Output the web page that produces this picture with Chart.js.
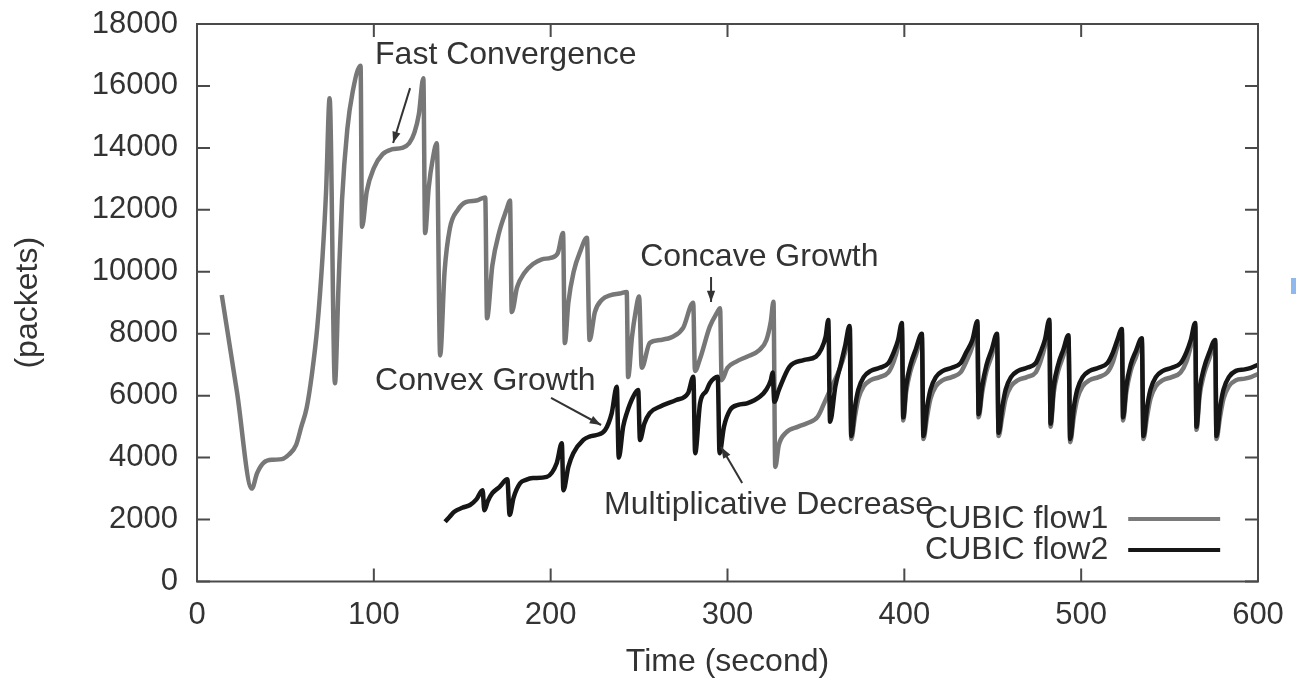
<!DOCTYPE html>
<html>
<head>
<meta charset="utf-8">
<script src="https://cdn.jsdelivr.net/npm/chart.js@4"></script>
<style>
  body { margin: 0; background: #fff; }
  #wrap { position: relative; width: 1297px; height: 684px; }
  #mark { position: absolute; left: 1291px; top: 278px; width: 5px; height: 16px; background: #8fb8ee; }
</style>
</head>
<body>
<div id="wrap">
  <canvas id="myChart" width="1297" height="684"></canvas>
  <div id="mark"></div>
</div>
<script>
// eixos
const xTicks = [0, 100, 200, 300, 400, 500, 600];
const yTicks = [0, 2000, 4000, 6000, 8000, 10000, 12000, 14000, 16000, 18000];

// CUBIC flow1 (cinza)
const flow1Time = [14, 22.6, 31, 34, 38, 43, 48, 52, 56, 59, 62, 65, 68, 71, 73, 75, 78, 80, 82, 85, 88, 92.5, 93.3, 96, 100, 105, 110, 116, 120, 123, 125.5, 128, 129, 131, 133.5, 135.6, 137.5, 140, 143, 147.5, 152, 158, 163, 164, 167, 171, 175, 177, 178, 181, 185, 190, 195, 200, 204, 207, 208, 210, 213, 217, 220.5, 222, 225, 229, 234, 239, 243, 243.8, 246, 248, 250, 251.5, 256, 262, 269, 275, 280.6, 281.6, 284.5, 290, 294, 295.8, 296.7, 300, 305, 311, 318, 322, 324.5, 326, 327, 329, 333, 340, 345, 351, 355, 359, 363, 366.5, 369.3, 370, 372, 374, 377, 381, 386, 391, 394, 396.5, 398.6, 399.4, 401, 403.5, 406.5, 409.9, 410.8, 412.8, 414.8, 417.8, 421.8, 426.8, 431.8, 435, 438.5, 441.3, 442, 444, 446.5, 449.5, 452.4, 453.3, 455.3, 457.3, 460.3, 464.3, 469.3, 474.3, 477, 479.5, 482, 482.7, 484.5, 487, 490, 492.8, 493.8, 495.8, 497.8, 500.8, 504.8, 509.8, 514.8, 518, 520.5, 523, 523.7, 525.5, 528, 531, 534.3, 535.2, 537.2, 539.2, 542.2, 546.2, 551.2, 556.2, 559.5, 562, 564.5, 565.2, 567, 569.5, 572.5, 575.8, 576.5, 578.5, 580.5, 583.5, 587.5, 592.5, 596, 600];
const flow1Packets = [9250, 6120, 3000, 3500, 3850, 3930, 3950, 4100, 4400, 5000, 5600, 6700, 8200, 10500, 12600, 15600, 6400, 9500, 12300, 14600, 15800, 16650, 11450, 12600, 13350, 13800, 13950, 14000, 14150, 14500, 15100, 16250, 11250, 12700, 13700, 14150, 7300, 10000, 11400, 12000, 12250, 12300, 12400, 8500, 10200, 11300, 12000, 12300, 8700, 9500, 9950, 10250, 10400, 10450, 10600, 11250, 7700, 9000, 10000, 10700, 11100, 7800, 8700, 9100, 9250, 9300, 9350, 6600, 7900, 8700, 9200, 6900, 7700, 7800, 7900, 8200, 9000, 6800, 7200, 8230, 8670, 8820, 6500, 6900, 7100, 7260, 7470, 7800, 8400, 9030, 3700, 4400, 4800, 5000, 5110, 5320, 5800, 6300, 6800, 7400, 8180, 4600, 5300, 5900, 6300, 6500, 6600, 6750, 7100, 7600, 8200, 5200, 6100, 6800, 7300, 7900, 4600, 5300, 5900, 6300, 6500, 6600, 6750, 7100, 7600, 8300, 5300, 6100, 6800, 7300, 7900, 4700, 5300, 5900, 6300, 6500, 6600, 6750, 7100, 7600, 8350, 5000, 6100, 6800, 7300, 7850, 4500, 5300, 5900, 6300, 6500, 6600, 6750, 7100, 7600, 8050, 5200, 6100, 6800, 7250, 7750, 4600, 5300, 5900, 6300, 6500, 6600, 6750, 7100, 7600, 8250, 4900, 6000, 6700, 7200, 7700, 4600, 5300, 5900, 6300, 6500, 6550, 6600, 6700];

// CUBIC flow2 (preto)
const flow2Time = [140.3, 143, 145.5, 150, 154.4, 158, 161.5, 162.5, 164.5, 167, 171, 175.5, 176.8, 179, 182.7, 186, 190, 197.8, 203.4, 206.3, 207.2, 210, 212.8, 218.5, 222, 226, 230.8, 234.5, 237.4, 238.5, 241, 243, 246.7, 249.5, 250.5, 253, 256, 262, 271, 277.7, 280.7, 281.7, 284.5, 288, 290, 294.5, 295.5, 298, 301.5, 306, 311, 318.4, 322, 324.5, 325.5, 326.5, 329, 335, 343, 350, 353, 355.5, 357, 358, 361, 364, 366.5, 369, 370, 372, 374, 377, 381, 386, 391, 394, 396.5, 398.6, 399.4, 401, 403.5, 406.5, 409.9, 410.8, 412.8, 414.8, 417.8, 421.8, 426.8, 431.8, 435, 438.5, 441.3, 442, 444, 446.5, 449.5, 452.4, 453.3, 455.3, 457.3, 460.3, 464.3, 469.3, 474.3, 477, 479.5, 482, 482.7, 484.5, 487, 490, 492.8, 493.8, 495.8, 497.8, 500.8, 504.8, 509.8, 514.8, 518, 520.5, 523, 523.7, 525.5, 528, 531, 534.3, 535.2, 537.2, 539.2, 542.2, 546.2, 551.2, 556.2, 559.5, 562, 564.5, 565.2, 567, 569.5, 572.5, 575.8, 576.5, 578.5, 580.5, 583.5, 587.5, 592.5, 596, 600];
const flow2Packets = [1930, 2100, 2250, 2380, 2470, 2650, 2950, 2300, 2600, 2850, 3050, 3300, 2150, 2700, 3170, 3280, 3340, 3380, 3820, 4460, 2950, 3700, 4140, 4570, 4680, 4730, 4890, 5430, 6290, 4000, 5000, 5430, 5970, 6180, 4570, 5100, 5440, 5650, 5860, 6080, 6610, 4140, 5760, 6150, 6400, 6610, 4140, 5000, 5540, 5700, 5750, 5970, 6200, 6500, 6750, 5800, 6180, 6930, 7150, 7260, 7500, 7900, 8440, 5160, 6300, 7000, 7600, 8250, 4700, 5600, 6200, 6600, 6800, 6900, 7050, 7400, 7800, 8350, 5300, 6300, 7000, 7500, 8000, 4700, 5600, 6200, 6600, 6800, 6900, 7050, 7400, 7800, 8400, 5400, 6300, 7000, 7500, 8000, 4800, 5600, 6200, 6600, 6800, 6900, 7050, 7400, 7800, 8450, 5100, 6300, 7000, 7500, 7950, 4600, 5600, 6200, 6600, 6800, 6900, 7050, 7400, 7800, 8150, 5300, 6300, 7000, 7450, 7850, 4700, 5600, 6200, 6600, 6800, 6900, 7050, 7400, 7800, 8350, 5000, 6200, 6900, 7400, 7800, 4700, 5600, 6200, 6600, 6800, 6850, 6900, 7000];

// anotacoes: texto, posicao do texto e seta (em unidades do grafico)
const notas = [
  { texto: 'Fast Convergence', t: 100.7, v: 17000, seta: [120.5, 15930, 110.9, 14160] },
  { texto: 'Concave Growth', t: 250.6, v: 10480, seta: [290.7, 9830, 290.7, 9025] },
  { texto: 'Convex Growth', t: 100.7, v: 6475, seta: [200.2, 5925, 228.5, 5053] },
  { texto: 'Multiplicative Decrease', t: 230.2, v: 2470, seta: [308.3, 3180, 296.4, 4343] }
];

const legenda = [
  { texto: 'CUBIC flow1', cor: '#7a7a7a', v: 2018 },
  { texto: 'CUBIC flow2', cor: '#161616', v: 1017 }
];

const familia = '"Liberation Sans", Arial, sans-serif';
const fonte = '32px ' + familia;
const corTexto = '#333';

function pontos(tempos, valores) {
  return tempos.map((t, i) => ({ x: t, y: valores[i] }));
}

// moldura com ticks para dentro (estilo gnuplot)
const moldura = {
  id: 'moldura',
  afterDraw(chart) {
    const c = chart.ctx;
    const a = chart.chartArea;
    const sx = chart.scales.x;
    const sy = chart.scales.y;
    const tam = 13;
    c.save();
    c.strokeStyle = '#4a4a4a';
    c.lineWidth = 2;
    c.strokeRect(a.left, a.top, a.right - a.left, a.bottom - a.top);
    c.beginPath();
    xTicks.forEach(v => {
      const px = sx.getPixelForValue(v);
      c.moveTo(px, a.bottom); c.lineTo(px, a.bottom - tam);
      c.moveTo(px, a.top); c.lineTo(px, a.top + tam);
    });
    yTicks.forEach(v => {
      const py = sy.getPixelForValue(v);
      c.moveTo(a.left, py); c.lineTo(a.left + tam, py);
      c.moveTo(a.right, py); c.lineTo(a.right - tam, py);
    });
    c.stroke();
    c.restore();
  }
};

const anotacoes = {
  id: 'anotacoes',
  afterDraw(chart) {
    const c = chart.ctx;
    const sx = chart.scales.x;
    const sy = chart.scales.y;
    c.save();
    c.font = fonte;
    c.fillStyle = corTexto;
    c.textBaseline = 'middle';
    notas.forEach(n => {
      c.textAlign = 'left';
      c.fillText(n.texto, sx.getPixelForValue(n.t), sy.getPixelForValue(n.v));
      const x1 = sx.getPixelForValue(n.seta[0]), y1 = sy.getPixelForValue(n.seta[1]);
      const x2 = sx.getPixelForValue(n.seta[2]), y2 = sy.getPixelForValue(n.seta[3]);
      c.strokeStyle = '#333';
      c.lineWidth = 2;
      c.beginPath(); c.moveTo(x1, y1); c.lineTo(x2, y2); c.stroke();
      const ang = Math.atan2(y2 - y1, x2 - x1);
      c.beginPath();
      c.moveTo(x2, y2);
      c.lineTo(x2 - 12 * Math.cos(ang - 0.35), y2 - 12 * Math.sin(ang - 0.35));
      c.lineTo(x2 - 12 * Math.cos(ang + 0.35), y2 - 12 * Math.sin(ang + 0.35));
      c.closePath();
      c.fill();
    });
    // legenda dentro do grafico
    legenda.forEach(l => {
      const py = sy.getPixelForValue(l.v);
      c.textAlign = 'right';
      c.fillStyle = corTexto;
      c.fillText(l.texto, sx.getPixelForValue(515.3), py);
      c.strokeStyle = l.cor;
      c.lineWidth = 4;
      c.beginPath();
      c.moveTo(sx.getPixelForValue(526.6), py);
      c.lineTo(sx.getPixelForValue(578.6), py);
      c.stroke();
    });
    c.restore();
  }
};

const ctx = document.getElementById('myChart').getContext('2d');

const grafico = new Chart(ctx, {
  type: 'line',
  data: {
    datasets: [
      {
        label: 'CUBIC flow2',
        data: pontos(flow2Time, flow2Packets),
        borderColor: '#161616',
        borderWidth: 4.5,
        pointRadius: 0,
        cubicInterpolationMode: 'monotone',
        order: 0
      },
      {
        label: 'CUBIC flow1',
        data: pontos(flow1Time, flow1Packets),
        borderColor: '#777',
        borderWidth: 4.5,
        pointRadius: 0,
        cubicInterpolationMode: 'monotone',
        order: 1
      }
    ]
  },
  options: {
    responsive: false,
    animation: false,
    layout: { padding: { top: 24, right: 39, left: 0, bottom: 0 } },
    scales: {
      x: {
        type: 'linear',
        min: 0,
        max: 600,
        afterBuildTicks: s => { s.ticks = xTicks.map(v => ({ value: v })); },
        afterFit: s => { s.height = 102.5; s.paddingLeft = 0; s.paddingRight = 0; },
        ticks: { callback: v => String(v), font: { size: 31, family: familia }, color: corTexto, padding: 15, maxRotation: 0 },
        grid: { display: false, drawTicks: false },
        border: { display: false },
        title: { display: true, text: 'Time (second)', font: { size: 32, family: familia }, color: corTexto, padding: 3 }
      },
      y: {
        min: 0,
        max: 18000,
        afterBuildTicks: s => { s.ticks = yTicks.map(v => ({ value: v })); },
        afterFit: s => { s.width = 197; s.paddingTop = 0; s.paddingBottom = 0; },
        ticks: { callback: v => String(v), font: { size: 31, family: familia }, color: corTexto, padding: 19 },
        grid: { display: false, drawTicks: false },
        border: { display: false },
        title: { display: true, text: '(packets)', font: { size: 32, family: familia }, color: corTexto, padding: { top: 9, bottom: 4 } }
      }
    },
    plugins: {
      legend: { display: false },
      tooltip: { enabled: false }
    }
  },
  plugins: [moldura, anotacoes]
});
</script>
</body>
</html>
